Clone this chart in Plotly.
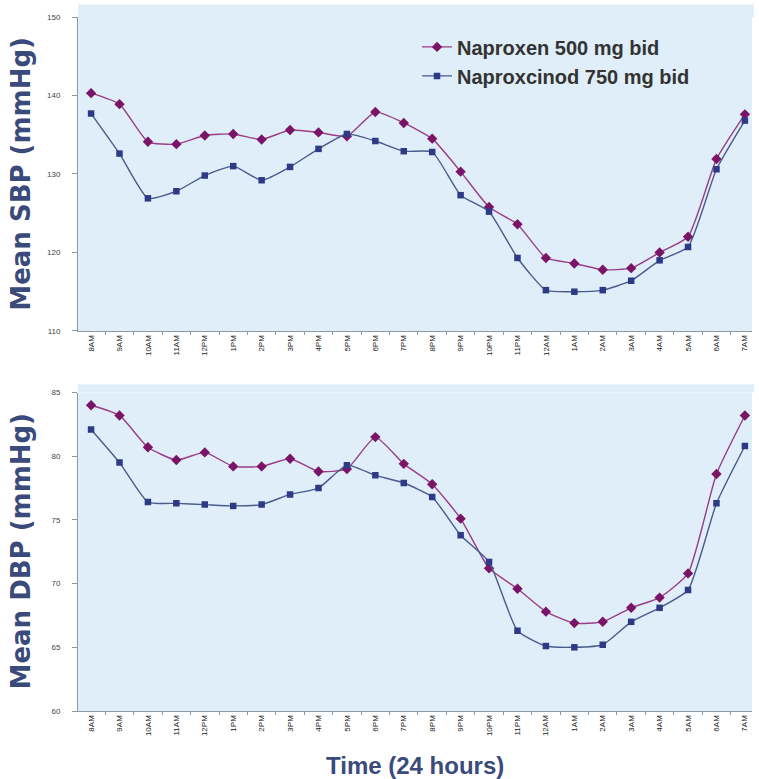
import plotly.graph_objects as go

times = ["8AM", "9AM", "10AM", "11AM", "12PM", "1PM", "2PM", "3PM", "4PM", "5PM",
         "6PM", "7PM", "8PM", "9PM", "10PM", "11PM", "12AM", "1AM", "2AM", "3AM",
         "4AM", "5AM", "6AM", "7AM"]

sbp_naproxen = [140.3, 138.9, 134.1, 133.8, 134.9, 135.1, 134.4, 135.6, 135.3, 134.8,
                137.9, 136.5, 134.5, 130.3, 125.8, 123.6, 119.3, 118.6, 117.8, 118.0,
                120.0, 122.0, 131.9, 137.6]
sbp_naproxcinod = [137.7, 132.6, 126.9, 127.8, 129.8, 131.0, 129.2, 130.9, 133.2, 135.1,
                   134.2, 132.9, 132.8, 127.3, 125.2, 119.3, 115.2, 115.0, 115.2, 116.4,
                   119.0, 120.7, 130.6, 136.8]

dbp_naproxen = [84.0, 83.2, 80.7, 79.7, 80.3, 79.2, 79.2, 79.8, 78.8, 79.0,
                81.5, 79.4, 77.8, 75.1, 71.2, 69.6, 67.8, 66.9, 67.0, 68.1,
                68.9, 70.8, 78.6, 83.2]
dbp_naproxcinod = [82.1, 79.5, 76.4, 76.3, 76.2, 76.1, 76.2, 77.0, 77.5, 79.3,
                   78.5, 77.9, 76.8, 73.8, 71.7, 66.3, 65.1, 65.0, 65.2, 67.0,
                   68.1, 69.5, 76.3, 80.8]

sbp_ticks = [110, 120, 130, 140, 150]
dbp_ticks = [60, 65, 70, 75, 80, 85]

names = ["<b>Naproxen 500 mg bid</b>", "<b>Naproxcinod 750 mg bid</b>"]

purple_line = "#9a3d86"
purple_mark = "#7a1466"
blue_line = "#4a5a8c"
blue_mark = "#2e3a86"
bg = "#dfeef8"
title_col = "#3a4a7a"

fig = go.Figure()

def add(y, name, lc, mc, sym, size, xa, ya, show):
    fig.add_trace(go.Scatter(x=times, y=y, name=name, mode="lines+markers",
                             line=dict(color=lc, width=1.4, shape="spline", smoothing=0.5),
                             marker=dict(symbol=sym, size=size, color=mc),
                             xaxis=xa, yaxis=ya, showlegend=show))

add(sbp_naproxen, names[0], purple_line, purple_mark, "diamond", 8, "x", "y", True)
add(sbp_naproxcinod, names[1], blue_line, blue_mark, "square", 6.5, "x", "y", True)
add(dbp_naproxen, names[0], purple_line, purple_mark, "diamond", 8, "x2", "y2", False)
add(dbp_naproxcinod, names[1], blue_line, blue_mark, "square", 6.5, "x2", "y2", False)

xcommon = dict(type="category", range=[-0.46, 23.25], showline=True, linecolor="#8c9aa6",
               linewidth=1, ticks="outside", tickson="boundaries", ticklen=3,
               tickcolor="#8c9aa6", tickangle=-90, showgrid=False, zeroline=False,
               tickfont=dict(family="Arial", size=8, color="#222"))
ycommon = dict(showline=True, linecolor="#8c9aa6", linewidth=1, ticks="outside", ticklen=5,
               tickcolor="#8c9aa6", showgrid=False, zeroline=False, ticklabelstandoff=10,
               tickfont=dict(family="Arial", size=8, color="#444"))

fig.update_layout(
    width=759, height=779,
    margin=dict(l=78, r=7, t=17, b=68),
    paper_bgcolor="white",
    plot_bgcolor=bg,
    showlegend=True,
    legend=dict(x=0.503, y=0.985, xanchor="left", yanchor="top", bgcolor="rgba(0,0,0,0)",
                font=dict(family="Arial", size=20, color="#333"), itemwidth=30),
    xaxis=dict(anchor="y", domain=[0, 1], **xcommon),
    yaxis=dict(anchor="x", domain=[0.5476, 1], range=[110, 150], tickvals=sbp_ticks, **ycommon),
    xaxis2=dict(anchor="y2", domain=[0, 1], **xcommon),
    yaxis2=dict(anchor="x2", domain=[0, 0.4589], range=[60, 85], tickvals=dbp_ticks, **ycommon),
    shapes=[
        dict(type="rect", xref="paper", yref="paper", x0=0, x1=1.003, y0=1, y1=1.018,
             fillcolor=bg, line=dict(width=0), layer="below"),
        dict(type="rect", xref="paper", yref="paper", x0=0, x1=1.003, y0=0.4589, y1=0.4705,
             fillcolor=bg, line=dict(width=0), layer="below"),
    ],
    annotations=[
        dict(text="<b>Mean SBP (mmHg)</b>", xref="paper", yref="paper", x=-0.085, y=0.7738,
             xanchor="center", yanchor="middle", textangle=-90, showarrow=False,
             font=dict(family="DejaVu Sans", size=26, color=title_col)),
        dict(text="<b>Mean DBP (mmHg)</b>", xref="paper", yref="paper", x=-0.085, y=0.2295,
             xanchor="center", yanchor="middle", textangle=-90, showarrow=False,
             font=dict(family="DejaVu Sans", size=26, color=title_col)),
        dict(text="<b>Time (24 hours)</b>", xref="paper", yref="paper", x=0.5, y=-0.078,
             xanchor="center", yanchor="middle", showarrow=False,
             font=dict(family="Arial", size=24, color=title_col)),
    ],
)

fig.write_html("out.html", config={"displayModeBar": False},
               post_script="document.body.style.margin='0';document.body.style.overflow='hidden';")
